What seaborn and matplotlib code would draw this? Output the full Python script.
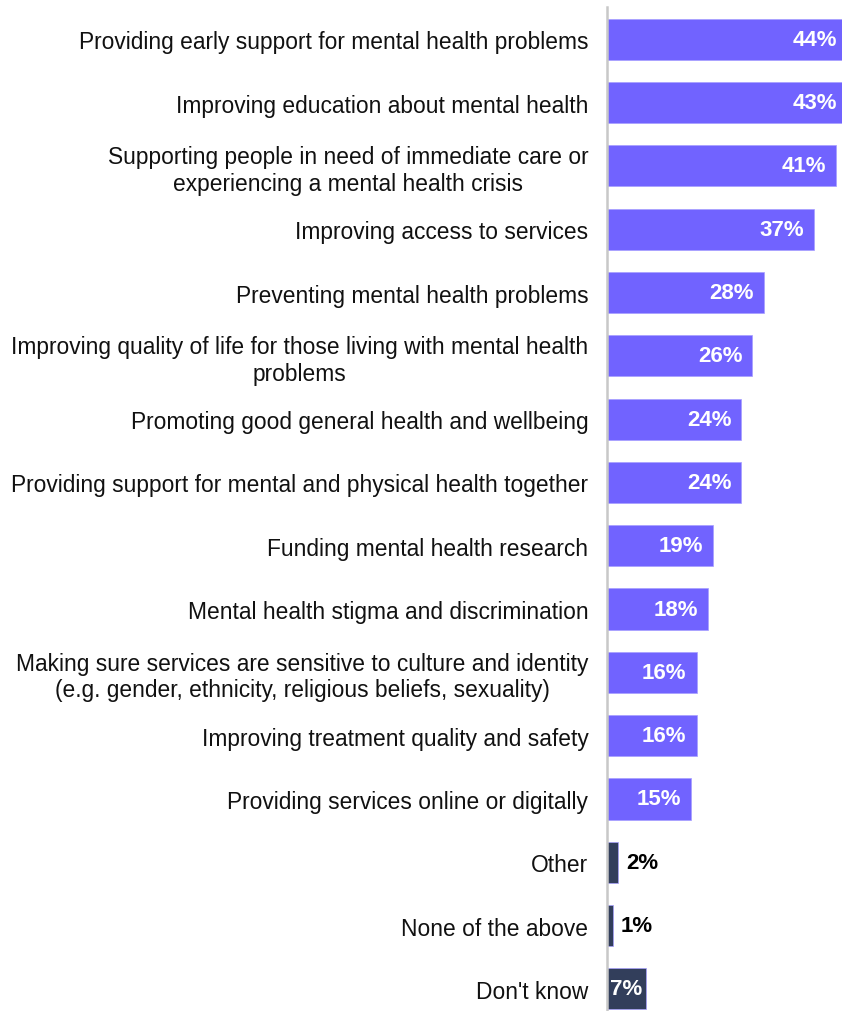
import matplotlib
matplotlib.use("Agg")
import matplotlib.pyplot as plt
import seaborn as sns
import pandas as pd
from matplotlib import transforms

categories = [
    "Providing early support for mental health problems",
    "Improving education about mental health",
    "Supporting people in need of immediate care or\nexperiencing a mental health crisis",
    "Improving access to services",
    "Preventing mental health problems",
    "Improving quality of life for those living with mental health\nproblems",
    "Promoting good general health and wellbeing",
    "Providing support for mental and physical health together",
    "Funding mental health research",
    "Mental health stigma and discrimination",
    "Making sure services are sensitive to culture and identity\n(e.g. gender, ethnicity, religious beliefs, sexuality)",
    "Improving treatment quality and safety",
    "Providing services online or digitally",
    "Other",
    "None of the above",
    "Don't know",
]
values = [44, 43, 41, 37, 28, 26, 24, 24, 19, 18, 16, 16, 15, 2, 1, 7]
groups = ["priority"] * 13 + ["other"] * 3

PURPLE = "#7163FF"
NAVY = "#323E5B"

sns.set_theme(style="white")
plt.rcParams["font.family"] = ["Liberation Sans", "DejaVu Sans"]

df = pd.DataFrame({"category": categories, "value": values, "group": groups})

fig = plt.figure(figsize=(8.42, 10.12), dpi=100)
W, H = 842, 1012
ax = fig.add_axes([607 / W, 0, (842 - 607) / W, (1012 - 8) / H])

sns.barplot(data=df, x="value", y="category", hue="group",
            palette={"priority": PURPLE, "other": NAVY}, saturation=1,
            dodge=False, legend=False, width=0.65, orient="h", ax=ax,
            edgecolor="#a69eff", linewidth=0.5)

XMAX = 42
ax.set_xlim(0, XMAX)
ax.set_ylim(15.35, -0.51)
ax.set_xlabel("")
ax.set_ylabel("")
ax.set_xticks([])
ax.tick_params(axis="y", length=0, pad=13.5)
for lab in ax.get_yticklabels():
    lab.set_fontsize(16.4)
    lab.set_color("#111111")
    lab.set_multialignment("center")
    lab.set_linespacing(1.2)

for s in ["top", "right", "bottom"]:
    ax.spines[s].set_visible(False)
ax.spines["left"].set_color("#c8c8c8")
ax.spines["left"].set_linewidth(1.8)

FS = 16
for i, v in enumerate(values):
    if v >= 10:
        if v > XMAX:
            end, dx = XMAX, -5
        else:
            end, dx = v, -10
        off = transforms.offset_copy(ax.transData, fig=fig, x=dx, y=0, units="dots")
        ax.text(end, i, f"{v}%", transform=off, ha="right", va="center",
                color="white", fontweight="bold", fontsize=FS)
    elif v >= 5:
        ax.text(v / 2, i, f"{v}%", ha="center", va="center",
                color="white", fontweight="bold", fontsize=FS)
    else:
        off = transforms.offset_copy(ax.transData, fig=fig, x=8, y=0, units="dots")
        ax.text(v, i, f"{v}%", transform=off, ha="left", va="center",
                color="black", fontweight="bold", fontsize=FS)

fig.savefig("out.png", dpi=100)
